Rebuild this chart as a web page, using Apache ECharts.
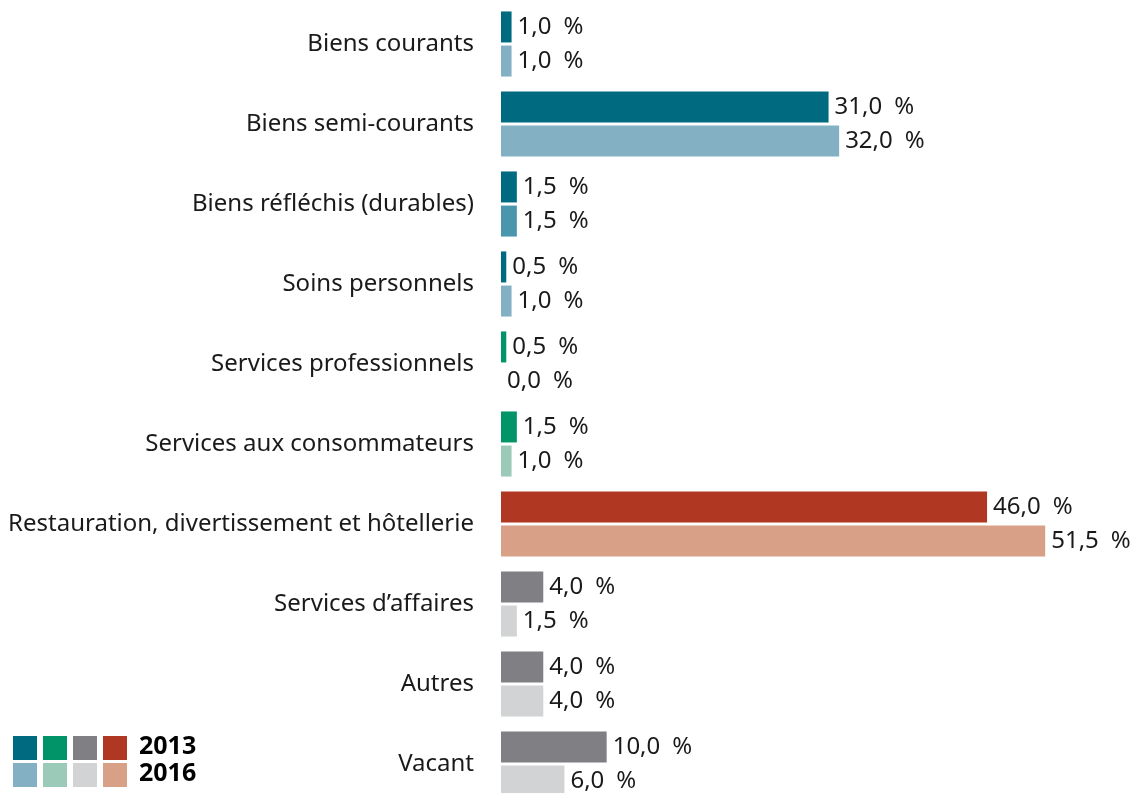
<!DOCTYPE html>
<html>
<head>
<meta charset="utf-8">
<script src="https://cdn.jsdelivr.net/npm/echarts@6/dist/echarts.min.js"></script>
<style>
  html, body { margin: 0; padding: 0; background: #fff; overflow: hidden; }
  #main { width: 1141px; height: 804px; }
</style>
</head>
<body>
<div id="main"></div>
<script>
// categories, top to bottom
var categories = [
  'Biens courants',
  'Biens semi-courants',
  'Biens réfléchis (durables)',
  'Soins personnels',
  'Services professionnels',
  'Services aux consommateurs',
  'Restauration, divertissement et hôtellerie',
  'Services d\u2019affaires',
  'Autres',
  'Vacant'
];
var values2013 = [1.0, 31.0, 1.5, 0.5, 0.5, 1.5, 46.0, 4.0, 4.0, 10.0];
var values2016 = [1.0, 32.0, 1.5, 1.0, 0.0, 1.0, 51.5, 1.5, 4.0, 6.0];

// couleurs par catégorie
var colors2013 = ['#006a80', '#006a80', '#006a80', '#006a80', '#009468', '#009468', '#b03822', '#808084', '#808084', '#808084'];
var colors2016 = ['#84b0c3', '#84b0c3', '#4a96ad', '#84b0c3', '#9bcab9', '#9bcab9', '#d9a088', '#d2d3d5', '#d2d3d5', '#d2d3d5'];

var chartDom = document.getElementById('main');
var myChart = echarts.init(chartDom);

function fmt(p) {
  return p.value.toFixed(1).replace('.', ',') + '\u2002%';
}

var labelStyle = {
  show: true,
  position: 'right',
  distance: 6,
  fontFamily: 'Noto Sans',
  fontSize: 24,
  color: '#1a1a1a',
  formatter: fmt
};

var option = {
  animation: false,
  grid: { left: 501, top: 4, right: 6, bottom: 0, containLabel: false },
  xAxis: {
    type: 'value',
    min: 0,
    max: 60,
    show: false
  },
  yAxis: {
    type: 'category',
    inverse: true,
    data: categories,
    axisLine: { show: false },
    axisTick: { show: false },
    axisLabel: {
      margin: 27,
      fontFamily: 'Noto Sans',
      fontSize: 24,
      color: '#1a1a1a'
    }
  },
  series: [
    {
      name: '2013',
      type: 'bar',
      barWidth: 31,
      barGap: '10%',
      data: values2013.map(function (v, i) {
        return { value: v, itemStyle: { color: colors2013[i] } };
      }),
      label: labelStyle
    },
    {
      name: '2016',
      type: 'bar',
      barWidth: 31,
      data: values2016.map(function (v, i) {
        return { value: v, itemStyle: { color: colors2016[i] } };
      }),
      label: labelStyle
    }
  ],
  graphic: []
};

// légende faite à la main
var legendTop = ['#006a80', '#009468', '#808084', '#b03822'];
var legendBottom = ['#84b0c3', '#9bcab9', '#d2d3d5', '#d9a088'];
for (var i = 0; i < 4; i++) {
  option.graphic.push({
    type: 'rect', left: 13 + i * 30, top: 736,
    shape: { width: 24, height: 24 }, style: { fill: legendTop[i] }
  });
  option.graphic.push({
    type: 'rect', left: 13 + i * 30, top: 763,
    shape: { width: 24, height: 24 }, style: { fill: legendBottom[i] }
  });
}
option.graphic.push({
  type: 'text', left: 139, top: 734,
  style: { text: '2013', font: 'bold 25px "Noto Sans"', fill: '#000' }
});
option.graphic.push({
  type: 'text', left: 139, top: 761,
  style: { text: '2016', font: 'bold 25px "Noto Sans"', fill: '#000' }
});

option && myChart.setOption(option);
</script>
</body>
</html>
